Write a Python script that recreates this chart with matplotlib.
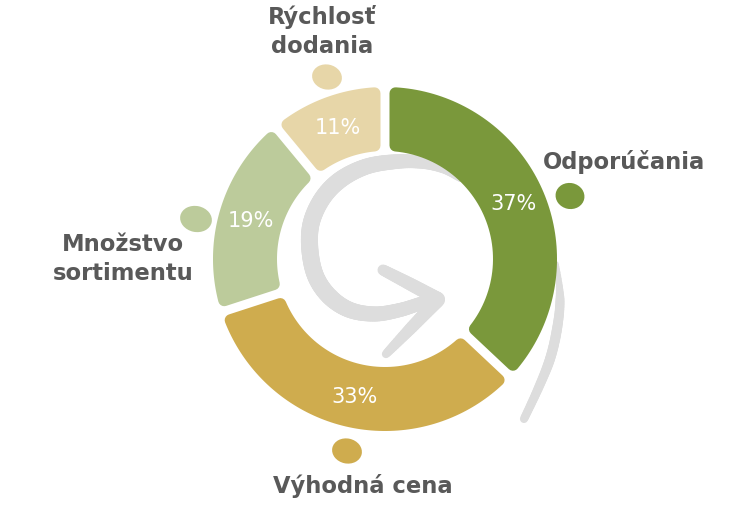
import numpy as np
import matplotlib.pyplot as plt
from matplotlib.patches import Polygon, Ellipse
from matplotlib.collections import LineCollection

labels = ['Odporúčania', 'Výhodná cena', 'Množstvo\nsortimentu', 'Rýchlosť\ndodania']
shares = [37, 33, 19, 11]
colors = ['#7a983b', '#cfac4e', '#bccb9b', '#e7d6a8']
grey = '#dddddd'
text_grey = '#595959'

W, H = 756, 506


def Y(y):
    # picture rows run downward, axes run upward
    return H - y


fig = plt.figure(figsize=(W / 100, H / 100), dpi=100)
ax = fig.add_axes([0, 0, 1, 1])

cx, cy = 385, Y(260)
R, r = 172, 108
gap, rc = 9, 6

wedges, _, pcts = ax.pie(shares, colors=colors, startangle=90, counterclock=False,
                         center=(cx, cy), radius=R, wedgeprops=dict(width=R - r),
                         autopct='%.0f%%', pctdistance=140 / R,
                         textprops=dict(color='white', fontsize=15))
ax.set_xlim(0, W)
ax.set_ylim(0, H)
ax.set_aspect('equal')
ax.axis('off')


def rounded_ring(a1, a2):
    # wedge shrunk by half the gap plus corner radius, later stroked with round joins
    d = gap / 2 + rc
    ro, ri = R - rc, r + rc
    o = np.radians(np.linspace(a1 + np.degrees(np.arcsin(d / ro)), a2 - np.degrees(np.arcsin(d / ro)), 90))
    i = np.radians(np.linspace(a2 - np.degrees(np.arcsin(d / ri)), a1 + np.degrees(np.arcsin(d / ri)), 60))
    return np.r_[np.c_[cx + ro * np.cos(o), cy + ro * np.sin(o)],
                 np.c_[cx + ri * np.cos(i), cy + ri * np.sin(i)]]


for w, c in zip(wedges, colors):
    w.set_visible(False)
    ax.add_patch(Polygon(rounded_ring(w.theta1, w.theta2), closed=True, fc=c, ec=c,
                         lw=2 * rc * 0.72, joinstyle='round', zorder=3))
for t in pcts:
    t.set_zorder(5)


def catmull(pts, n=12):
    pts = np.asarray(pts, float)
    p = np.vstack([pts[0], pts, pts[-1]])
    out = []
    for k in range(1, len(p) - 2):
        p0, p1, p2, p3 = p[k - 1], p[k], p[k + 1], p[k + 2]
        for t in np.linspace(0, 1, n, endpoint=False):
            out.append(0.5 * (2 * p1 + (-p0 + p2) * t + (2 * p0 - 5 * p1 + 4 * p2 - p3) * t ** 2
                              + (-p0 + 3 * p1 - 3 * p2 + p3) * t ** 3))
    out.append(pts[-1])
    return np.array(out)


def brush(pts, widths, n=12):
    pts = np.array([(x, Y(y)) for x, y in pts], float)
    line = catmull(pts, n)
    ws = np.interp(np.arange(len(line)) / n, np.arange(len(widths)), widths)
    segs = np.stack([line[:-1], line[1:]], axis=1)
    lc = LineCollection(segs, linewidths=ws[:-1] * 0.72, colors=grey,
                        capstyle='round', joinstyle='round', zorder=1)
    ax.add_collection(lc)


# grey swirl arrow inside the ring
brush([(460, 182), (442, 170), (418, 163), (392, 163), (365, 168), (340, 181), (322, 200),
       (311, 225), (310, 252), (316, 278), (330, 298), (350, 311), (375, 315), (400, 311),
       (422, 304), (438, 299)],
      [2, 8, 13, 15, 16, 17, 17, 17, 17, 17, 17, 16, 15, 14, 13, 12])
brush([(383, 271), (410, 285), (438, 300)], [11, 13, 14])
brush([(438, 301), (412, 328), (386, 355)], [14, 12, 8])
# swoosh outside on the right
brush([(557, 264), (560, 300), (557, 330), (550, 360), (538, 390), (524, 420)],
      [3, 9, 10, 10, 9, 8])

# blobs next to the labels
blob_xy = [(570, 197), (347, 452), (196, 220), (327, 78)]
blob_wh = [(29, 26), (30, 25), (32, 26), (30, 25)]
for (bx, by), (bw, bh), c in zip(blob_xy, blob_wh, colors):
    ax.add_patch(Ellipse((bx, Y(by)), bw, bh, angle=-12, fc=c, ec='none', zorder=2))

# category labels (baseline of the last line)
label_xy = [(624, 169), (363, 493), (123, 280), (322, 53)]
for lab, (lx, ly) in zip(labels, label_xy):
    ax.text(lx, Y(ly), lab, ha='center', va='baseline', fontsize=16.3, fontweight='bold',
            color=text_grey, linespacing=1.36, multialignment='center')

fig.savefig('out.png', dpi=100)
